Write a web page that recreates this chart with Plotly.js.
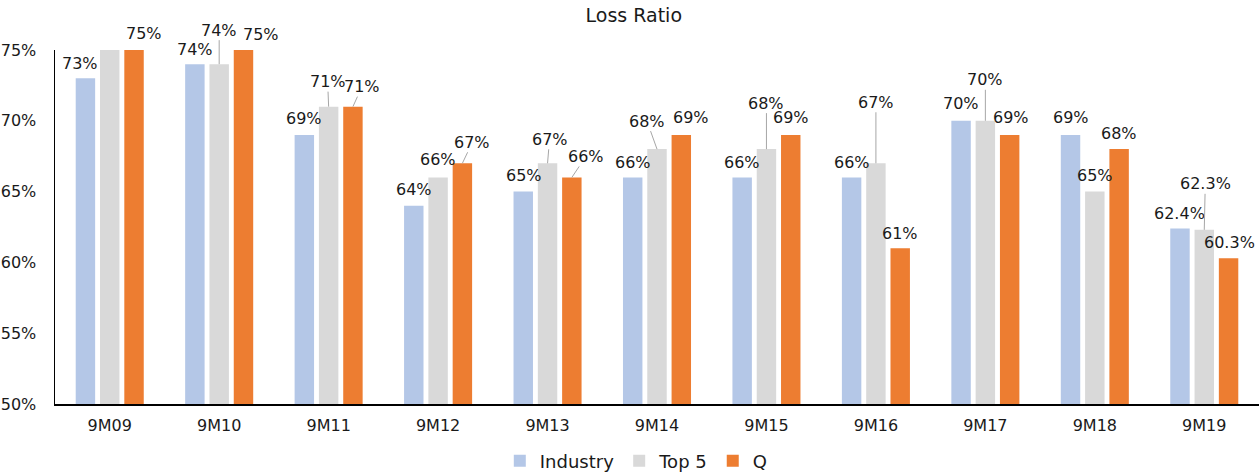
<!DOCTYPE html>
<html>
<head>
<meta charset="utf-8">
<script src="https://cdn.plot.ly/plotly-3.0.1.min.js"></script>
<style>html,body{margin:0;padding:0;background:#fff;}#chart{width:1260px;height:472px;}</style>
</head>
<body>
<div id="chart"></div>
<script>
// ---- data ----
const categories = ["9M09","9M10","9M11","9M12","9M13","9M14","9M15","9M16","9M17","9M18","9M19"];
const industry = [73, 74, 69, 64, 65, 66, 66, 66, 70, 69, 62.4];
const top5     = [75, 74, 71, 66, 67, 68, 68, 67, 70, 65, 62.3];
const qValues  = [75, 75, 71, 67, 66, 69, 69, 61, 69, 68, 60.3];
const seriesNames = ["Industry", "Top 5", "Q"];

// ---- label placement (pixel offsets; style only) ----
// [dx, dy above bar top, leader line]
const labelPlacement = [
  [[-5,15,0],[0,15,0],[0,16,0],[0,16,0],[1,16,0],[0,15,0],[0,15,0],[0,15,0],[0,17,0],[0,17,0],[0,15,0]],
  [null,[0,34,1],[-1,25,1],[0,18,0],[2,24,1],[-10,28,1],[0,46,1],[0,61,1],[0,41,1],[0,16,0],[1,46,1]],
  [[10,17,0],[18,16,0],[9,20,1],[10,21,1],[14,21,1],[10,17,0],[0,17,0],[0,15,0],[1,17,0],[0,16,0],[1,16,0]]
];

const colors = ["#B4C7E7", "#D9D9D9", "#ED7D31"];
const FONT = "DejaVu Sans, Verdana, sans-serif";
const bargap = 0.334;
const seriesData = [industry, top5, qValues];

const traces = seriesData.map((vals, s) => ({
  type: "bar",
  name: seriesNames[s],
  x: categories,
  y: vals,
  marker: {color: colors[s]},
  hoverinfo: "skip"
}));

function fmt(v){ return Number.isInteger(v) ? v + "%" : v.toFixed(1) + "%"; }

const slot = (1 - bargap) / 3;
const annotations = [];
seriesData.forEach((vals, s) => {
  vals.forEach((v, i) => {
    const p = labelPlacement[s][i];
    if (!p) return;
    const xpos = i + (s - 1) * slot;
    if (p[2]) {
      annotations.push({
        x: xpos, y: v, xref: "x", yref: "y",
        text: fmt(v), showarrow: true, arrowhead: 0, arrowwidth: 1,
        arrowcolor: "#A6A6A6", standoff: 0, ax: p[0], ay: -p[1],
        font: {family: FONT, size: 16, color: "#1a1a1a"}, borderpad: 0
      });
    } else {
      annotations.push({
        x: xpos, y: v, xref: "x", yref: "y",
        text: fmt(v), showarrow: false, xshift: p[0], yshift: p[1],
        yanchor: "middle",
        font: {family: FONT, size: 16, color: "#1a1a1a"}
      });
    }
  });
});

const layout = {
  width: 1260, height: 472,
  margin: {l: 55, r: 1, t: 50, b: 68},
  paper_bgcolor: "#fff", plot_bgcolor: "#fff",
  font: {family: FONT, size: 16, color: "#1a1a1a"},
  title: {text: "Loss Ratio", font: {family: FONT, size: 19, color: "#1a1a1a"},
          x: 0.503, xref: "container", y: 0.968, yref: "container", yanchor: "middle"},
  barmode: "group", bargap: bargap, bargroupgap: 0.2,
  showlegend: true,
  legend: {orientation: "h", xref: "container", yref: "container", x: 0.505, xanchor: "center",
           y: 0.023, yanchor: "middle", font: {family: FONT, size: 18, color: "#1a1a1a"},
           itemwidth: 30, traceorder: "normal"},
  xaxis: {type: "category", showline: true, linecolor: "#000", linewidth: 1.5,
          showgrid: false, ticks: "", zeroline: false, ticklabelstandoff: 6,
          tickfont: {family: FONT, size: 16, color: "#1a1a1a"}},
  yaxis: {range: [50, 75], dtick: 5, tick0: 50, ticksuffix: "%", showline: true,
          linecolor: "#000", linewidth: 1.5, showgrid: false, zeroline: false, ticks: "",
          ticklabelstandoff: 14, tickfont: {family: FONT, size: 16, color: "#1a1a1a"}},
  annotations: annotations
};

Plotly.newPlot("chart", traces, layout, {displayModeBar: false, staticPlot: true});
</script>
</body>
</html>
